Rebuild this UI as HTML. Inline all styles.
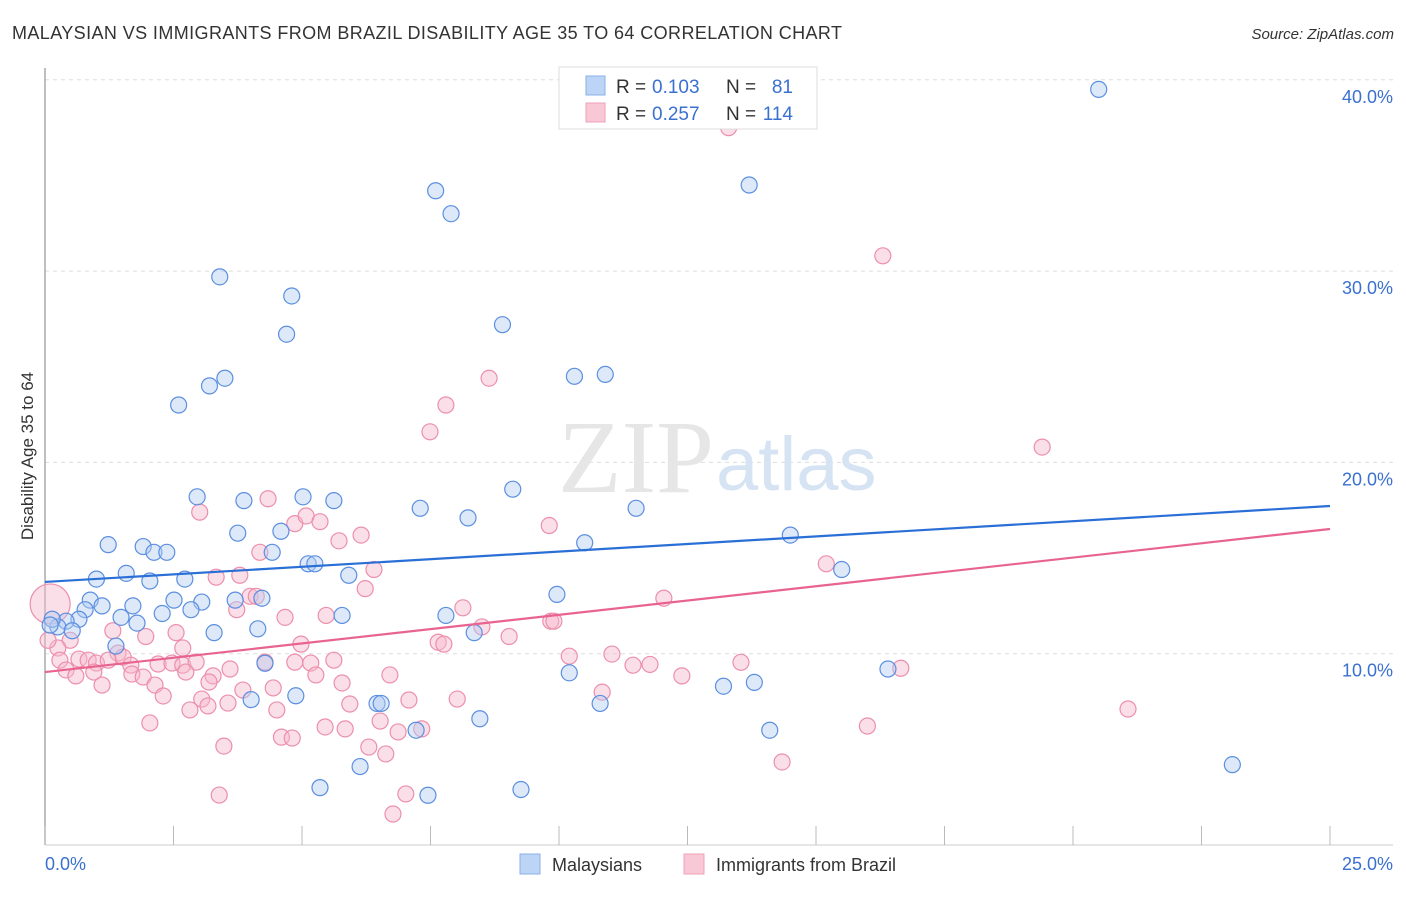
<!DOCTYPE html>
<html><head><meta charset="utf-8"><style>
body{margin:0;background:#fff;font-family:"Liberation Sans",sans-serif}
</style></head><body>
<svg id="chart" width="1406" height="892" viewBox="0 0 1406 892" xmlns="http://www.w3.org/2000/svg">
<text x="12" y="39" font-size="18" fill="#333" textLength="830">MALAYSIAN VS IMMIGRANTS FROM BRAZIL DISABILITY AGE 35 TO 64 CORRELATION CHART</text>
<text x="1394" y="39" font-size="15" font-style="italic" fill="#333" text-anchor="end">Source: ZipAtlas.com</text>
<g id="grid"></g>
<line x1="45" y1="68" x2="45" y2="845" stroke="#aaa" stroke-width="1.5"/>
<line x1="45" y1="845" x2="1393" y2="845" stroke="#ccc"/>
<g id="xticks"></g>
<text x="714" y="492" font-size="104" fill="#e6e6e6" text-anchor="end" font-family="Liberation Serif,serif">ZIP</text>
<text x="716" y="490" font-size="76" fill="#d5e3f3">atlas</text>
<text transform="translate(33,456) rotate(-90)" font-size="17" fill="#333" text-anchor="middle">Disability Age 35 to 64</text>
<text x="45" y="870" font-size="18" fill="#3a70d0">0.0%</text>
<text x="1393" y="870" font-size="18" fill="#3a70d0" text-anchor="end">25.0%</text>
<g id="pink"></g>
<g id="blue"></g>
<g id="trends"></g>
<g>
<rect x="559" y="67" width="258" height="62" fill="#fff" stroke="#ddd"/>
<rect x="586" y="76" width="19" height="19" fill="#bcd4f5" stroke="#8ab0e8"/>
<rect x="586" y="103" width="19" height="19" fill="#f8c8d6" stroke="#f0a0b8"/>
<text x="616" y="93" font-size="19" fill="#333">R =</text>
<text x="652" y="93" font-size="19" fill="#3a70d0">0.103</text>
<text x="726" y="93" font-size="19" fill="#333">N =</text>
<text x="793" y="93" font-size="19" fill="#3a70d0" text-anchor="end">81</text>
<text x="616" y="120" font-size="19" fill="#333">R =</text>
<text x="652" y="120" font-size="19" fill="#3a70d0">0.257</text>
<text x="726" y="120" font-size="19" fill="#333">N =</text>
<text x="793" y="120" font-size="19" fill="#3a70d0" text-anchor="end">114</text>
</g>
<g>
<rect x="520" y="854" width="20" height="20" fill="#bcd4f5" stroke="#8ab0e8"/>
<text x="552" y="871" font-size="18" fill="#333">Malaysians</text>
<rect x="684" y="854" width="20" height="20" fill="#f8c8d6" stroke="#f0a0b8"/>
<text x="716" y="871" font-size="18" fill="#333">Immigrants from Brazil</text>
</g>
</svg>
<script>
const yTicks=[10,20,30,40];
const xTickVals=[0,2.5,5,7.5,10,12.5,15,17.5,20,22.5,25];
const blueTrend=[13.75,17.72];
const pinkTrend=[9.04,16.52];
const blueX=[20.5,7.6,7.9,13.7,3.4,4.8,4.7,8.9,2.6,3.2,3.5,10.3,10.9,2.96,3.87,5.02,5.62,7.3,8.23,9.1,11.5,3.75,4.59,4.42,10.5,14.5,1.23,1.91,2.12,2.37,5.12,5.25,1.0,1.58,2.04,2.72,5.91,15.5,0.88,1.11,1.71,2.51,3.05,3.7,4.22,9.96,0.78,0.66,0.41,1.48,1.79,2.28,2.84,5.78,7.8,8.35,0.25,0.53,0.14,3.29,4.14,1.38,4.28,10.2,16.4,4.88,4.01,6.46,6.54,10.8,13.2,13.8,8.46,7.22,14.1,6.13,5.35,7.45,9.26,23.1,0.1];
const blueY=[39.5,34.2,33.0,34.5,29.7,28.7,26.7,27.2,23.0,24.0,24.4,24.5,24.6,18.2,18.0,18.2,18.0,17.6,17.1,18.6,17.6,16.3,16.4,15.3,15.8,16.2,15.7,15.6,15.3,15.3,14.7,14.7,13.9,14.2,13.8,13.9,14.1,14.4,12.8,12.5,12.5,12.8,12.7,12.8,12.9,13.1,12.3,11.8,11.7,11.9,11.6,12.1,12.3,12.0,12.0,11.1,11.4,11.2,11.8,11.1,11.3,10.4,9.5,9.0,9.2,7.8,7.6,7.4,7.4,7.4,8.3,8.5,6.6,6.0,6.0,4.1,3.0,2.6,2.9,4.2,11.5];
const pinkX=[13.3,16.3,8.64,7.8,7.49,19.4,3.01,4.34,4.86,5.08,5.35,6.15,5.72,9.81,4.18,3.79,6.4,3.33,3.99,4.11,6.23,8.13,12.04,15.2,3.73,4.67,5.47,9.84,9.9,8.5,1.32,1.96,2.55,7.65,7.76,9.03,4.98,2.68,11.03,10.2,13.54,16.65,11.44,11.77,12.39,0.49,0.25,1.42,0.06,0.29,0.66,0.84,1.0,1.23,1.52,1.67,2.2,2.47,2.68,2.94,3.6,4.28,4.86,5.17,5.62,0.41,0.6,0.95,1.69,1.91,2.74,3.27,5.27,6.71,1.11,2.14,3.19,3.85,4.44,5.78,10.84,2.3,3.05,3.17,3.56,2.82,4.51,7.08,8.02,5.93,2.04,6.52,5.45,6.87,7.33,16.0,21.07,3.48,4.6,4.81,5.84,6.63,6.3,14.34,3.39,7.02,6.77,0.1];
const pinkY=[37.5,30.8,24.4,23.0,21.6,20.8,17.4,18.1,16.8,17.2,16.9,16.2,15.9,16.7,15.3,14.1,14.4,14.0,13.0,13.0,13.4,12.4,12.9,14.7,12.3,11.9,12.0,11.7,11.7,11.4,11.2,10.9,11.1,10.6,10.5,10.9,10.5,10.3,9.98,9.87,9.55,9.24,9.4,9.44,8.84,10.7,10.3,10.03,10.7,9.66,9.72,9.66,9.51,9.66,9.82,9.4,9.46,9.51,9.4,9.56,9.2,9.56,9.56,9.51,9.66,9.15,8.84,9.04,8.94,8.78,9.04,8.84,8.89,8.89,8.36,8.36,8.52,8.10,8.21,8.47,7.99,7.79,7.63,7.27,7.42,7.06,7.06,7.58,7.63,7.37,6.38,6.48,6.17,5.91,6.07,6.22,7.11,5.17,5.64,5.59,6.07,4.76,5.12,4.34,2.61,2.67,1.62,12.6];
const sx=v=>45+v*51.4, sy=v=>845-v*19.13;
const NS='http://www.w3.org/2000/svg';
function mk(t,a,p){const e=document.createElementNS(NS,t);for(const k in a)e.setAttribute(k,a[k]);p.appendChild(e);return e;}
const grid=document.getElementById('grid');
yTicks.forEach(v=>{
 const l=mk('line',{x1:45,x2:1393,y1:sy(v),y2:sy(v),stroke:'#ddd','stroke-dasharray':'4,4'},grid);
 
 
 const t=mk('text',{x:1393,y:sy(v)+23,'font-size':18,fill:'#3a70d0','text-anchor':'end'},grid);
 t.textContent=v.toFixed(1)+'%';
 
 
});
const xt=document.getElementById('xticks');
xTickVals.forEach(v=>{
 const l=mk('line',{x1:sx(v),x2:sx(v),y1:826,y2:845,stroke:'#bbb'},xt);
 
 
});
function pts(X,Y,g,fill,stroke,name){
 X.forEach((x,i)=>{
  const big=(i===X.length-1 && name==='pink-point');
  const c=mk('circle',{cx:sx(x),cy:sy(Y[i]),r:big?20:8,fill:fill,'fill-opacity':0.45,stroke:stroke,'stroke-width':1.2},g);
  
  
 });
}
pts(pinkX,pinkY,document.getElementById('pink'),'#f6b8cb','#ec8fac','pink-point');
pts(blueX,blueY,document.getElementById('blue'),'#b3cdf2','#5b8fe0','blue-point');
function trend(T,color,name){
 const l=mk('line',{x1:sx(0),y1:sy(T[0]),x2:sx(25),y2:sy(T[1]),stroke:color,'stroke-width':2.2},document.getElementById('trends'));
 
 
}
trend(blueTrend,'#2a6fd6','blue-trend-line');
trend(pinkTrend,'#e8638f','pink-trend-line');
</script>
</body></html>
